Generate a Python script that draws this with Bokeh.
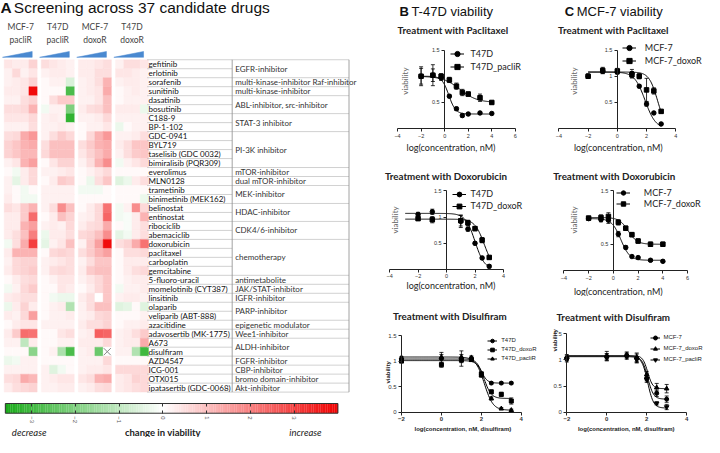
import math
import numpy as np
from bokeh.plotting import figure
from bokeh.layouts import row, column
from bokeh.models import (Range1d, Label, Legend, LegendItem, Whisker, TeeHead,
                          ColumnDataSource, LinearColorMapper, FixedTicker, LinearAxis)
from bokeh.embed import file_html
from bokeh.resources import INLINE
from bokeh.core.properties import value

NaN = float("nan")

# ---------------------------------------------------------------- data: panel A
cell_lines_top = ["MCF-7", "T47D", "MCF-7", "T47D"]
cell_lines_bottom = ["pacliR", "pacliR", "doxoR", "doxoR"]

drugs = ["gefitinib", "erlotinib", "sorafenib", "sunitinib", "dasatinib", "bosutinib",
         "C188-9", "BP-1-102", "GDC-0941", "BYL719", "taselisib (GDC 0032)",
         "bimiralisib (PQR309)", "everolimus", "MLN0128", "trametinib",
         "binimetinib (MEK162)", "belinostat", "entinostat", "ribociclib", "abemaciclib",
         "doxorubicin", "paclitaxel", "carboplatin", "gemcitabine", "5-fluoro-uracil",
         "momelotinib (CYT387)", "linsitinib", "olaparib", "veliparib (ABT-888)",
         "azacitidine", "adavosertib (MK-1775)", "A673", "disulfiram", "AZD4547",
         "ICG-001", "OTX015", "ipatasertib (GDC-0068)"]

category_names = ["EGFR-inhibitor", "multi-kinase-inhibitor Raf-inhibitor",
                  "multi-kinase-inhibitor", "ABL-inhibitor, src-inhibitor", "STAT-3 inhibitor",
                  "PI-3K inhibitor", "mTOR-inhibitor", "dual mTOR-inhibitor", "MEK-inhibitor",
                  "HDAC-inhibitor", "CDK4/6-inhibitor", "chemotherapy", "antimetabolite",
                  "JAK/STAT-inhibitor", "IGFR-inhibitor", "PARP-inhibitor",
                  "epigenetic modulator", "Wee1-inhibitor", "ALDH-inhibitor", "FGFR-inhibitor",
                  "CBP-inhibitor", "bromo domain-inhibitor", "Akt-inhibitor"]
category_sizes = [2, 1, 1, 2, 2, 4, 1, 1, 2, 2, 2, 4, 1, 1, 1, 2, 1, 1, 2, 1, 1, 1, 1]

mcf7_paclir = [
    [0.4, 0.3, 0.3, 0.7], [0.2, 0.6, 0.2, 0.4], [0.2, 0.3, 0.4, 0.7], [0.3, 0.3, 0.4, 3.8],
    [0.2, 0.2, 0.5, 0.7], [0.5, 0.5, 0.6, 1.2], [0.4, 0.4, 0.4, 0.6], [0.2, 0.2, 0.2, 0.5],
    [0.5, 0.6, 1.3, 1.6], [0.7, 0.9, 1.2, 1.3], [0.7, 0.9, 1.1, 1.1], [0.2, 0.4, 1.2, 1.5],
    [0.1, -0.2, 0.3, 0.6], [0.2, -0.4, 0.3, 0.6], [0.2, 0.1, -0.2, 0.1], [0.3, 0.1, -0.2, -0.2],
    [0.5, 0.4, 0.8, 1.2], [0.3, 0.3, 0.8, 2.3], [0.3, 0.3, 1.2, 1.5], [0.3, 0.5, 1.0, 2.0],
    [-0.2, 0.5, 1.3, 3.0], [0.3, 1.2, 1.2, 1.2], [0.2, 0.6, 0.7, 0.7], [0.3, 0.6, 0.7, 0.8],
    [0.1, 0.3, 0.5, 0.6], [-0.2, 0.2, 0.6, 0.8], [0.3, 0.4, 0.5, 0.5], [-0.3, 0.3, 0.7, 0.3],
    [0.3, 0.2, 0.6, 1.5], [0.1, 0.3, 0.4, 0.4], [0.3, 0.8, 2.3, 2.2], [0.2, 0.2, -1.0, 0.3],
    [0.1, 0.1, 0.1, -1.8], [-0.3, -0.2, 0.2, 0.2], [0.2, 0.2, 0.2, 0.2], [0.5, 0.6, 1.3, 1.1],
    [0.3, 0.5, 0.6, 0.7]]
t47d_paclir = [
    [0.5, 0.4, 0.3, 0.2], [0.2, 0.3, 0.3, 0.2], [0.1, 0.2, 0.2, -0.6], [0.1, 0.1, 0.1, -2.8],
    [0.1, 0.5, 0.8, 0.8], [-0.2, 0.2, 0.2, -2.0], [0.2, 0.3, 0.2, -3.2], [0.2, 0.2, 0.3, 0.2],
    [0.2, 0.5, 0.8, 0.6], [0.5, 1.0, 1.0, 1.0], [0.6, 1.0, 1.0, 1.0], [0.1, 0.4, 0.7, 0.7],
    [0.2, 0.2, 0.3, 0.4], [0.1, 0.3, 0.8, 0.7], [0.2, 0.2, 0.2, 0.2], [0.2, 0.2, 0.2, 0.2],
    [0.2, 0.5, 1.8, 1.0], [0.1, 0.3, 1.0, 0.7], [0.2, 0.3, 0.2, 0.6], [-0.3, 0.3, 0.3, 0.5],
    [-0.4, 0.2, 0.4, 1.0], [0.1, 0.6, 0.7, 0.6], [0.2, 0.3, 0.4, 0.5], [0.2, 0.5, 0.6, 0.5],
    [0.1, 0.2, 0.4, 0.4], [0.1, 0.1, 0.4, 0.3], [0.1, -0.2, -0.3, -0.3], [0.1, 0.2, 0.3, -1.2],
    [0.1, 0.2, 0.2, 0.3], [0.2, 0.2, 0.2, 0.2], [0.1, 0.1, 0.4, 0.5], [0.1, 0.1, 0.2, 0.2],
    [0.1, 0.2, -1.3, -2.8], [0.1, 0.1, 0.1, 0.1], [0.2, -0.5, -0.2, 0.1], [0.2, 0.3, 0.4, 0.4],
    [0.2, 0.2, 0.3, 0.3]]
mcf7_doxor = [
    [0.3, 0.3, 0.4, 0.5], [0.3, 0.3, 0.5, 0.5], [0.2, 0.3, 0.5, 1.2], [0.2, 0.3, 0.4, 1.3],
    [0.2, 0.2, 0.4, 1.0], [0.3, 0.5, 0.6, 1.0], [0.2, 0.2, 0.3, 0.6], [0.1, 0.2, 0.2, 0.4],
    [0.1, 0.6, 1.2, 1.6], [0.5, 0.8, 1.2, 1.3], [0.4, 0.7, 1.0, 1.3], [0.2, 0.5, 1.2, 1.8],
    [0.1, 0.2, 0.4, 0.6], [0.1, -0.3, 0.5, 0.9], [-0.2, -0.2, -0.2, 0.1], [0.1, 0.1, 0.1, 0.1],
    [0.1, 0.3, 0.6, 2.2], [0.2, 0.3, 0.6, 2.4], [0.3, 0.5, 0.6, 1.3], [0.6, 0.7, 1.0, 1.8],
    [0.2, 0.8, 1.5, 3.8], [0.5, 0.8, 1.2, 1.5], [0.2, 0.5, 0.9, 0.9], [0.3, 0.8, 1.0, 1.0],
    [0.2, 0.4, 0.6, 0.9], [0.1, 0.3, 0.6, 0.9], [0.3, 0.5, 0.0, 0.9], [0.2, 0.5, 1.0, 1.0],
    [0.2, 0.3, 0.6, 0.7], [0.3, 0.5, 0.5, 0.7], [0.2, 0.3, 2.5, 2.4], [0.3, 0.3, 0.3, 0.6],
    [0.2, 0.3, -2.3, NaN], [0.2, 0.2, 0.2, 0.6], [0.2, 0.3, 0.3, 0.4], [0.4, 0.5, 1.2, 1.3],
    [0.2, 0.3, 0.5, 0.6]]
t47d_doxor = [
    [0.2, 0.5, 0.5, 0.4], [0.4, 0.4, 0.3, 0.2], [0.2, 0.3, 0.3, 0.2], [0.1, 0.2, 0.3, 0.2],
    [0.1, 0.2, 0.2, 0.2], [0.3, 0.3, 0.3, -0.3], [0.2, 0.2, 0.2, 0.2], [-0.3, 0.1, 0.2, 0.2],
    [0.2, 0.2, 0.3, 0.5], [0.3, 0.5, 0.9, 0.9], [0.2, 0.5, 0.8, 0.9], [-0.2, 0.2, 0.4, 0.6],
    [0.1, 0.1, 0.1, 0.1], [-0.5, -0.3, 0.3, 0.5], [0.1, 0.1, 0.1, 0.1], [0.1, 0.1, 0.1, -0.3],
    [-0.2, 0.2, 1.8, 0.6], [-0.2, -0.1, 0.3, 1.2], [0.1, -0.1, 0.3, 0.5], [-0.4, -0.2, 0.3, 0.5],
    [0.5, 0.7, 1.3, 2.2], [0.1, 0.5, 0.5, 0.6], [0.1, 0.3, 0.3, 0.3], [0.1, 0.3, 0.5, 0.6],
    [0.1, 0.2, 0.3, 0.3], [-0.2, 0.2, 0.2, 0.3], [0.2, 0.3, 0.3, 0.2], [-0.5, -0.4, 0.1, -0.5],
    [0.1, 0.1, 0.1, 0.2], [0.1, 0.2, 0.2, 0.3], [0.2, 0.3, 0.5, 0.8], [0.2, 0.3, 0.3, 1.3],
    [0.2, 0.2, -1.2, -3.0], [0.1, 0.1, 0.1, 0.1], [0.6, 0.6, 0.6, 0.6], [0.3, 0.4, 0.7, 0.6],
    [0.3, 0.4, 0.5, 0.6]]

colorbar_ticks = [-3, -2, -1, 0, 1, 2, 3]

# ---------------------------------------------------------------- data: panels B, C
conc_b_pac = [-2, -1, -0.3, 0.4, 1, 1.5, 2, 3, 4]
t47d_pac = [1.00, 1.02, 0.97, 0.62, 0.38, 0.25, 0.28, 0.30, 0.29]
t47d_pac_err = [0.18, 0.20, 0.05, 0.03, 0.03, 0.03, 0.02, 0.02, 0.02]
t47d_paclir_pac = [1.00, 1.02, 1.00, 0.93, 0.81, 0.69, 0.66, 0.59, 0.50]
t47d_paclir_pac_err = [0.15, 0.12, 0.05, 0.05, 0.06, 0.06, 0.04, 0.07, 0.03]
fit_t47d_pac = [1.0, 0.28, 0.35, 1.5]          # top, bottom, logEC50, hill
fit_t47d_paclir_pac = [1.0, 0.5, 1.3, 0.6]

conc_b_dox = [-2, -1, 1, 1.5, 2, 2.5, 3]
t47d_dox = [1.05, 1.10, 0.92, 0.77, 0.50, 0.22, 0.06]
t47d_dox_err = [0.04, 0.05, 0.12, 0.04, 0.03, 0.03, 0.03]
t47d_doxor_dox = [0.97, 0.95, 0.93, 0.89, 0.78, 0.56, 0.23]
t47d_doxor_dox_err = [0.03, 0.06, 0.10, 0.05, 0.04, 0.05, 0.03]
fit_t47d_dox = [1.07, 0.0, 2.0, 1.3]
fit_t47d_doxor_dox = [0.96, 0.0, 2.65, 1.3]

conc_b_dis = [-2, 0, 1, 1.5, 2, 2.5, 3, 3.5]
t47d_dis = [1.03, 1.05, 1.05, 1.04, 0.73, 0.57, 0.57, 0.57]
t47d_dis_err = [0.03, 0.12, 0.15, 0.04, 0.04, 0.02, 0.02, 0.02]
t47d_doxor_dis = [1.00, 0.93, 1.02, 1.03, 0.75, 0.40, 0.35, 0.22]
t47d_doxor_dis_err = [0.03, 0.05, 0.05, 0.03, 0.04, 0.03, 0.04, 0.06]
t47d_paclir_dis = [1.07, 1.08, 1.08, 1.07, 0.72, 0.27, 0.07, 0.04]
t47d_paclir_dis_err = [0.02, 0.05, 0.05, 0.03, 0.03, 0.03, 0.02, 0.02]
fit_t47d_dis = [1.04, 0.57, 2.0, 3.0]
fit_t47d_doxor_dis = [1.01, 0.27, 2.15, 2.5]
fit_t47d_paclir_dis = [1.08, 0.04, 2.15, 2.0]

conc_c_pac = [-2, -1, 0, 1, 1.5, 2, 2.5, 3]
mcf7_pac = [1.00, 1.10, 1.08, 1.05, 0.81, 0.47, 0.30, 0.09]
mcf7_pac_err = [0.04, 0.05, 0.04, 0.08, 0.03, 0.04, 0.02, 0.02]
mcf7_doxor_pac = [1.00, 1.11, 1.10, 1.03, 1.00, 0.74, 0.72, 0.33]
mcf7_doxor_pac_err = [0.04, 0.06, 0.05, 0.06, 0.05, 0.22, 0.06, 0.03]
fit_mcf7_pac = [1.08, 0.0, 1.9, 1.2]
fit_mcf7_doxor_pac = [1.08, 0.0, 2.75, 1.5]

conc_c_dox = [-2, -1, -0.4, 0.4, 1, 1.5, 2, 3, 4]
mcf7_dox = [0.98, 0.96, 0.95, 0.69, 0.44, 0.27, 0.25, 0.20, 0.18]
mcf7_dox_err = [0.03, 0.04, 0.06, 0.05, 0.03, 0.02, 0.02, 0.02, 0.02]
mcf7_doxor_dox = [0.99, 1.00, 1.02, 0.91, 0.80, 0.68, 0.56, 0.50, 0.50]
mcf7_doxor_dox_err = [0.03, 0.05, 0.07, 0.05, 0.04, 0.04, 0.04, 0.04, 0.04]
fit_mcf7_dox = [0.98, 0.2, 0.6, 1.2]
fit_mcf7_doxor_dox = [1.0, 0.5, 1.2, 1.2]

conc_c_dis = [-2, 0, 1, 1.5, 2, 2.5, 3]
mcf7_dis = [1.03, 1.05, 1.08, 1.03, 0.65, 0.36, 0.25]
mcf7_dis_err = [0.04, 0.07, 0.05, 0.08, 0.05, 0.06, 0.06]
mcf7_doxor_dis = [1.06, 1.08, 1.10, 1.05, 0.72, 0.47, 0.45]
mcf7_doxor_dis_err = [0.04, 0.08, 0.05, 0.08, 0.06, 0.08, 0.08]
mcf7_paclir_dis = [1.00, 1.05, 1.06, 1.00, 0.62, 0.17, 0.10]
mcf7_paclir_dis_err = [0.04, 0.06, 0.05, 0.06, 0.05, 0.03, 0.05]
fit_mcf7_dis = [1.07, 0.25, 2.05, 3.0]
fit_mcf7_doxor_dis = [1.08, 0.45, 2.05, 3.5]
fit_mcf7_paclir_dis = [1.06, 0.08, 2.05, 3.0]

# ---------------------------------------------------------------- layout helpers
KX = 700 / 707
KY = 437 / 450
SANS = "Liberation Sans"
CAL = "Lato"


def lpx(r, ox):
    return (r - 3) * KX - ox


def lpy(r, oy):
    return (r - 2) * KY - oy


def new_fig(W, H, xr, yr, **kw):
    p = figure(width=W, height=H, x_range=xr, y_range=yr, output_backend="svg",
               toolbar_location=None, min_border=0, min_border_left=0, min_border_right=0,
               min_border_top=0, min_border_bottom=0, outline_line_color=None,
               background_fill_color="white", border_fill_color="white", **kw)
    p.xgrid.visible = False
    p.ygrid.visible = False
    return p


def label(p, x, y, s, size, font=SANS, style="normal", color="#222", align="center",
          angle=0.0, **kw):
    p.add_layout(Label(x=x, y=y, text=s, text_font=font, text_font_size=f"{size}px",
                       text_font_style=style, text_color=color, text_align=align,
                       text_baseline="middle", angle=angle, **kw))


def panel(ox, oy, W, H, xa, ya):
    (xv1, xr1), (xv2, xr2) = xa
    l1, l2 = lpx(xr1, ox), lpx(xr2, ox)
    s = (l2 - l1) / (xv2 - xv1)
    x0 = xv1 - l1 / s
    x1 = x0 + W / s
    (yv1, yr1), (yv2, yr2) = ya
    m1, m2 = lpy(yr1, oy), lpy(yr2, oy)
    t = (m2 - m1) / (yv1 - yv2)
    ytop = yv1 + m1 / t
    ybot = ytop - H / t
    p = new_fig(W, H, Range1d(x0, x1), Range1d(ybot, ytop))
    fx = lambda r: x0 + lpx(r, ox) / s
    fy = lambda r: ytop - lpy(r, oy) / t
    return p, fx, fy


def style_axes(p, xaxis_y, yaxis_x, xticks, xb, yticks, yb, fsize=5.5, xbold=False):
    xa = p.xaxis[0]
    ya = p.yaxis[0]
    for a in (xa, ya):
        a.major_tick_in = 0
        a.major_tick_out = 3
        a.minor_tick_line_color = None
        a.axis_line_color = "#222"
        a.major_tick_line_color = "#222"
        a.axis_line_width = 1
        a.major_label_text_font = SANS
        a.major_label_text_font_size = f"{fsize}px"
        a.major_label_text_color = "#333"
        a.major_label_standoff = 2
    if xbold:
        xa.major_label_text_font_style = "bold"
    xa.fixed_location = xaxis_y
    ya.fixed_location = yaxis_x
    xa.ticker = FixedTicker(ticks=xticks)
    xa.bounds = xb
    ya.ticker = FixedTicker(ticks=yticks)
    ya.bounds = yb


def series(p, x, y, err, fit, xdom, marker, name, size):
    top, bottom, ec, hill = fit
    cx = np.linspace(xdom[0], xdom[1], 160)
    cy = bottom + (top - bottom) / (1 + 10 ** ((cx - ec) * hill))
    lr = p.line(cx, cy, line_color="black", line_width=1)
    src = ColumnDataSource(dict(x=x, y=y,
                                upper=[a + b for a, b in zip(y, err)],
                                lower=[a - b for a, b in zip(y, err)]))
    p.add_layout(Whisker(source=src, base="x", upper="upper", lower="lower",
                         line_color="black", line_width=0.8,
                         upper_head=TeeHead(size=4, line_width=0.8, line_color="black"),
                         lower_head=TeeHead(size=4, line_width=0.8, line_color="black")))
    sr = p.scatter("x", "y", source=src, marker=marker, size=size, color="black")
    return LegendItem(label=name, renderers=[lr, sr])


def add_legend(p, items, ox, oy, H, gx, r1, pitch_ref, gw, standoff, fsize, font):
    pitch = pitch_ref * KY
    top = lpy(r1, oy) - pitch / 2
    bottom = top + len(items) * pitch
    leg = Legend(items=items, location=(lpx(gx, ox), H - bottom), orientation="vertical",
                 glyph_width=int(round(gw)), glyph_height=int(round(pitch)),
                 label_height=int(round(pitch)), spacing=0, padding=0, margin=0,
                 label_standoff=standoff, label_text_font=font,
                 label_text_font_size=f"{fsize}px", label_text_color="#222",
                 border_line_color=None, background_fill_alpha=0)
    p.add_layout(leg)


# ---------------------------------------------------------------- panel A
WA, HA = 383, 437
HX0, CW = 6.7, 8.33
HY0, RH = 63.0, 9.25
CB0, CBS = 167.0, 44.2


def ax_(r):
    return (r - HX0) / CW


def ay_(r):
    return (r - HY0) / RH


pA = new_fig(WA, HA, Range1d(ax_(3), ax_(WA / KX + 3)), Range1d(ay_(HA / KY + 2), ay_(2)),
             x_axis_location=None, y_axis_location=None)
pA.extra_x_ranges = {"cb": Range1d((3 - CB0) / CBS, (WA / KX + 3 - CB0) / CBS)}

cb_low, cb_high = -3.6, 4.0
green_end = (25, 170, 25)
red_end = (240, 0, 0)
palette = []
for i in range(256):
    v = cb_low + (cb_high - cb_low) * i / 255
    if v < 0:
        t = v / cb_low
        c = green_end
    else:
        t = v / cb_high
        c = red_end
    palette.append("#%02x%02x%02x" % tuple(int(round(255 + (cc - 255) * t)) for cc in c))
mapper = LinearColorMapper(palette=palette, low=cb_low, high=cb_high, nan_color="white")

group_data = [mcf7_paclir, t47d_paclir, mcf7_doxor, t47d_doxor]
GSTRIDE = 4.5
hx, hy, hv = [], [], []
for g, mat in enumerate(group_data):
    for r, rowv in enumerate(mat):
        for c, v in enumerate(rowv):
            hx.append(g * GSTRIDE + c + 0.5)
            hy.append(r + 0.5)
            hv.append(v)
hv = np.array(hv, dtype=float)
pA.rect(x="x", y="y", width=1, height=1,
        source=ColumnDataSource(dict(x=np.array(hx), y=np.array(hy), v=hv)),
        fill_color={"field": "v", "transform": mapper},
        line_color={"field": "v", "transform": mapper}, line_width=0.4)
nan_idx = np.where(np.isnan(hv))[0]
pA.scatter(x=[hx[i] for i in nan_idx], y=[hy[i] for i in nan_idx], marker="x", size=10,
           line_color="#888888", line_width=1)

# wedges above each group
wx = [[g * GSTRIDE - 0.2, g * GSTRIDE + 3.4, g * GSTRIDE + 3.4] for g in range(4)]
wy = [[ay_(60.5), ay_(60.5), ay_(54.5)] for g in range(4)]
pA.patches(wx, wy, fill_color="#4a89d0", line_color="#4a89d0", line_width=0.5)
for g in range(4):
    label(pA, g * GSTRIDE + 2, ay_(29), cell_lines_top[g], 8.5, font=CAL, color="#444")
    label(pA, g * GSTRIDE + 2, ay_(43), cell_lines_bottom[g], 8.5, font=CAL, color="#444")

# title
label(pA, ax_(3), ay_(9), "A", 15.5, style="bold", color="#111", align="left")
label(pA, ax_(16.5), ay_(9), "Screening across 37 candidate drugs", 15.5, color="#111",
      align="left")

# table
nrow = len(drugs)
pA.segment(x0=[ax_(151)] * (nrow + 1), x1=[ax_(237)] * (nrow + 1),
           y0=list(range(nrow + 1)), y1=list(range(nrow + 1)),
           line_color="#bdbdbd", line_width=0.7)
cbounds = list(np.cumsum([0] + category_sizes))
pA.segment(x0=[ax_(237)] * len(cbounds), x1=[ax_(355)] * len(cbounds), y0=cbounds,
           y1=cbounds, line_color="#bdbdbd", line_width=0.7)
pA.segment(x0=[ax_(237), ax_(355)], x1=[ax_(237), ax_(355)], y0=[0, 0], y1=[nrow, nrow],
           line_color="#8a8a8a", line_width=0.8)
pA.text(x=[ax_(152.5)] * nrow, y=[r + 0.5 for r in range(nrow)], text=drugs,
        text_font=value(CAL), text_font_size=value("8px"), text_baseline="middle",
        text_color="#111")
ccent = [(cbounds[i] + cbounds[i + 1]) / 2 for i in range(len(category_sizes))]
pA.text(x=[ax_(240)] * len(category_names), y=ccent, text=category_names,
        text_font=value(CAL), text_font_size=value("8px"), text_baseline="middle",
        text_color="#333")

# colour bar
nb = 190
edges = np.linspace(cb_low, cb_high, nb + 1)
centers = (edges[:-1] + edges[1:]) / 2
pA.rect(x="x", y=ay_(422), width=(cb_high - cb_low) / nb * 1.1, height=10 / RH,
        source=ColumnDataSource(dict(x=centers, v=centers)),
        fill_color={"field": "v", "transform": mapper}, line_color=None, x_range_name="cb")
pA.rect(x=(cb_low + cb_high) / 2, y=ay_(422), width=cb_high - cb_low, height=10 / RH,
        fill_color=None, line_color="#333333", line_width=1, x_range_name="cb")
cax = LinearAxis(x_range_name="cb", fixed_location=ay_(427),
                 ticker=FixedTicker(ticks=colorbar_ticks), major_tick_in=3, major_tick_out=0,
                 axis_line_color=None, minor_tick_line_color=None,
                 major_tick_line_color="#333", major_label_orientation=-math.pi / 2,
                 major_label_text_font_size="6px", major_label_standoff=3,
                 major_label_text_color="#555")
pA.add_layout(cax, "below")
cax2 = LinearAxis(x_range_name="cb", fixed_location=ay_(417),
                  ticker=FixedTicker(ticks=colorbar_ticks), major_tick_in=3, major_tick_out=0,
                  axis_line_color=None, minor_tick_line_color=None,
                  major_tick_line_color="#333", major_label_text_alpha=0)
pA.add_layout(cax2, "above")
label(pA, ax_(32), ay_(447), "decrease", 9.5, font=CAL, style="italic")
label(pA, ax_(167), ay_(447), "change in viability", 9.5, font=CAL, style="bold")
label(pA, ax_(311), ay_(447), "increase", 9.5, font=CAL, style="italic")

# ---------------------------------------------------------------- panel B
OXB, OXC = 383, 551
TFS = 9.8   # subplot title size
XLS = 9     # axis label size
LGS = 9     # legend size

pB1, fx, fy = panel(OXB, 0, 168, 154, ((-4, 404), (6, 523)), ((1.5, 53), (0.5, 107)))
style_axes(pB1, 0, 0, [-4, -2, 0, 2, 4, 6], (-4, 6), [0.5, 1.5], (0, 1.5))
it = [series(pB1, conc_b_pac, t47d_pac, t47d_pac_err, fit_t47d_pac, (-2, 4), "circle",
             "T47D", 4.5),
      series(pB1, conc_b_pac, t47d_paclir_pac, t47d_paclir_pac_err, fit_t47d_paclir_pac,
             (-2, 4), "square", "T47D_pacliR", 4.5)]
add_legend(pB1, it, OXB, 0, 154, 458, 58, 13, 14, 6, LGS, CAL)
label(pB1, fx(406), fy(13), "B", 13, style="bold", color="#111", align="left")
label(pB1, fx(418), fy(13), "T-47D viability", 13, color="#111", align="left")
label(pB1, fx(460), fy(32), "Treatment with Paclitaxel", TFS, font=CAL, style="bold")
label(pB1, fx(412), fy(85), "viability", 8, font=CAL, color="#666", angle=math.pi / 2)
label(pB1, fx(458), fy(153), "log(concentration, nM)", XLS, font=CAL)

pB2, fx, fy = panel(OXB, 154, 168, 140, ((-4, 396), (4, 511)), ((1.5, 198), (0.5, 252)))
style_axes(pB2, 0, 0, [-4, -2, 0, 2, 4], (-4, 4), [0.5, 1.0, 1.5], (0, 1.5))
it = [series(pB2, conc_b_dox, t47d_dox, t47d_dox_err, fit_t47d_dox, (-2.9, 3.1), "circle",
             "T47D", 4.5),
      series(pB2, conc_b_dox, t47d_doxor_dox, t47d_doxor_dox_err, fit_t47d_doxor_dox,
             (-2.9, 3.1), "square", "T47D_doxoR", 4.5)]
add_legend(pB2, it, OXB, 154, 140, 460, 202, 12, 14, 4, LGS, CAL)
label(pB2, fx(453), fy(183), "Treatment with Doxorubicin", TFS, font=CAL, style="bold")
label(pB2, fx(401), fy(228), "viability", 8, font=CAL, color="#666", angle=math.pi / 2)
label(pB2, fx(458), fy(295), "log(concentration, nM)", XLS, font=CAL)

pB3, fx, fy = panel(OXB, 294, 168, 143, ((-2, 408), (4, 529)), ((1.5, 347), (0, 426)))
style_axes(pB3, 0, -2, [-2, 0, 2, 4], (-2, 4), [0, 0.5, 1.0, 1.5], (0, 1.5), fsize=6,
           xbold=True)
it = [series(pB3, conc_b_dis, t47d_dis, t47d_dis_err, fit_t47d_dis, (-2, 3.5), "circle",
             "T47D", 4),
      series(pB3, conc_b_dis, t47d_doxor_dis, t47d_doxor_dis_err, fit_t47d_doxor_dis,
             (-2, 3.5), "square", "T47D_doxoR", 4),
      series(pB3, conc_b_dis, t47d_paclir_dis, t47d_paclir_dis_err, fit_t47d_paclir_dis,
             (-2, 3.5), "triangle", "T47D_pacliR", 4.5)]
add_legend(pB3, it, OXB, 294, 143, 495, 352, 9.5, 10, 4, 6, SANS)
label(pB3, fx(457), fy(327), "Treatment with Disulfiram", TFS, font=CAL, style="bold")
label(pB3, fx(394), fy(385), "viability", 6, style="bold", angle=math.pi / 2)
label(pB3, fx(470), fy(443), "log(concentration, nM, disulfiram)", 6, style="bold")

# ---------------------------------------------------------------- panel C
pC1, fx, fy = panel(OXC, 0, 153, 154, ((-4, 567), (4, 685)), ((1.5, 53), (0.5, 107)))
style_axes(pC1, 0, 0, [-4, -2, 0, 2, 4], (-4, 4), [0.5, 1.0, 1.5], (0, 1.5))
it = [series(pC1, conc_c_pac, mcf7_pac, mcf7_pac_err, fit_mcf7_pac, (-2, 3), "circle",
             "MCF-7", 4.5),
      series(pC1, conc_c_pac, mcf7_doxor_pac, mcf7_doxor_pac_err, fit_mcf7_doxor_pac,
             (-2, 3), "square", "MCF-7_doxoR", 4.5)]
add_legend(pC1, it, OXC, 0, 154, 631, 52, 13, 14, 9, LGS, CAL)
label(pC1, fx(573), fy(13), "C", 13, style="bold", color="#111", align="left")
label(pC1, fx(585), fy(13), "MCF-7 viability", 13, color="#111", align="left")
label(pC1, fx(622), fy(32), "Treatment with Paclitaxel", TFS, font=CAL, style="bold")
label(pC1, fx(582), fy(85), "viability", 8, font=CAL, color="#666", angle=math.pi / 2)
label(pC1, fx(627), fy(153), "log(concentration, nM)", XLS, font=CAL)

pC2, fx, fy = panel(OXC, 154, 153, 142, ((-4, 572), (6, 697)), ((1.5, 198), (0.5, 253)))
style_axes(pC2, 0, 0, [-4, -2, 0, 2, 4, 6], (-4, 6), [0.5, 1.5], (0, 1.5))
it = [series(pC2, conc_c_dox, mcf7_dox, mcf7_dox_err, fit_mcf7_dox, (-2, 4), "circle",
             "MCF-7", 4.5),
      series(pC2, conc_c_dox, mcf7_doxor_dox, mcf7_doxor_dox_err, fit_mcf7_doxor_dox,
             (-2, 4), "square", "MCF-7_doxoR", 4.5)]
add_legend(pC2, it, OXC, 154, 142, 625, 200, 11.5, 14, 14, LGS, CAL)
label(pC2, fx(623), fy(183), "Treatment with Doxorubicin", TFS, font=CAL, style="bold")
label(pC2, fx(582), fy(228), "viability", 8, font=CAL, color="#666", angle=math.pi / 2)
label(pC2, fx(627), fy(302), "log(concentration, nM)", XLS, font=CAL)

pC3, fx, fy = panel(OXC, 296, 153, 141, ((-2, 575), (4, 696)), ((1.5, 345), (0, 426)))
style_axes(pC3, 0, -2, [-2, 0, 2, 4], (-2, 4), [0, 0.5, 1.0, 1.5], (0, 1.5), fsize=6,
           xbold=True)
it = [series(pC3, conc_c_dis, mcf7_dis, mcf7_dis_err, fit_mcf7_dis, (-2, 3), "circle",
             "MCF-7", 4),
      series(pC3, conc_c_dis, mcf7_doxor_dis, mcf7_doxor_dis_err, fit_mcf7_doxor_dis,
             (-2, 3), "triangle", "MCF-7_doxoR", 4.5),
      series(pC3, conc_c_dis, mcf7_paclir_dis, mcf7_paclir_dis_err, fit_mcf7_paclir_dis,
             (-2, 3), "inverted_triangle", "MCF-7_pacliR", 4.5)]
add_legend(pC3, it, OXC, 296, 141, 660, 350, 11, 10, 3, 6, SANS)
label(pC3, fx(622), fy(328), "Treatment with Disulfiram", TFS, font=CAL, style="bold")
label(pC3, fx(563), fy(352), "viability", 6, style="bold", angle=math.pi / 2)
label(pC3, fx(635), fy(443), "log(concentration, nM, disulfiram)", 6, style="bold")

layout = row(pA, column(pB1, pB2, pB3, spacing=0), column(pC1, pC2, pC3, spacing=0),
             spacing=0)

open("out.html", "w").write(file_html(layout, INLINE))
